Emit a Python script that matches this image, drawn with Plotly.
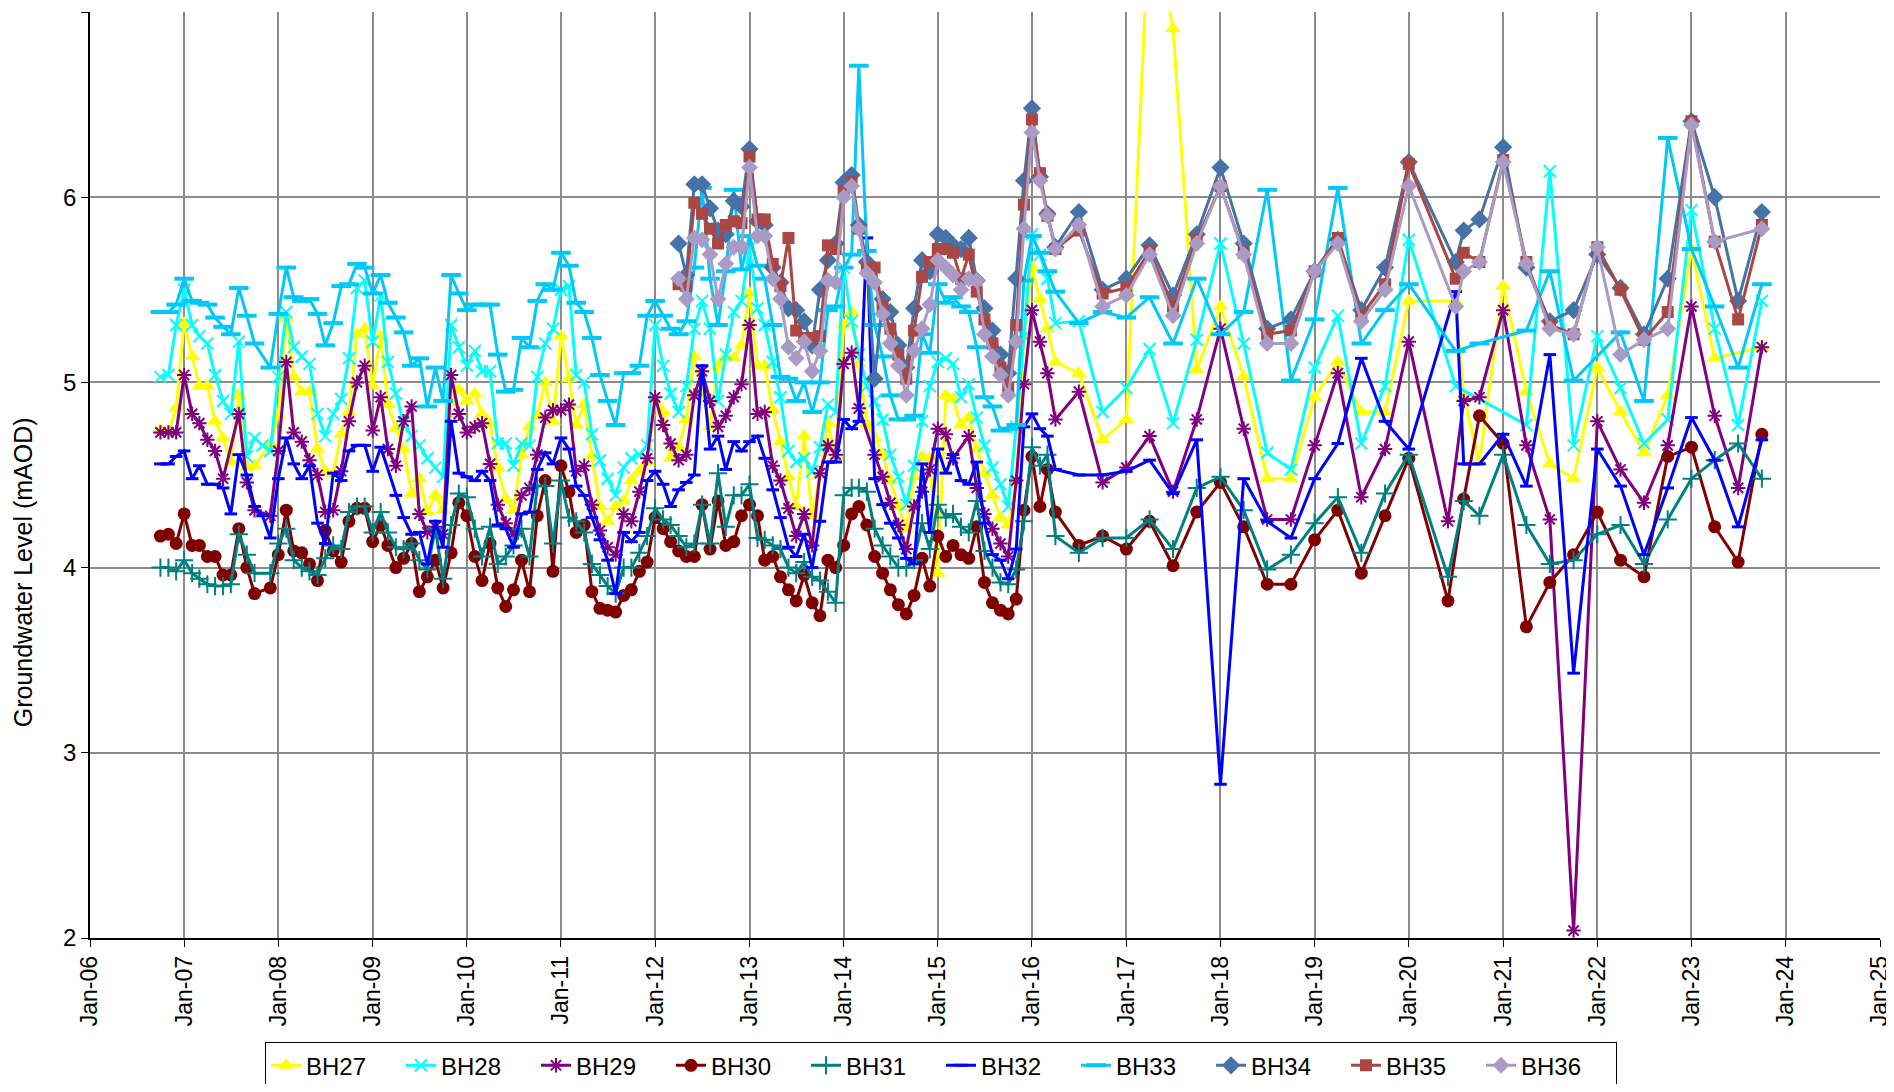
import plotly.graph_objects as go

# ---------------- dates (monthly Oct-2006 .. Apr-2016, then quarterly) ----------------
dense_dates = []
yy, mm = 2006, 10
while (yy, mm) <= (2016, 4):
    dense_dates.append(f"{yy}-{mm:02d}-01")
    mm += 1
    if mm == 13:
        mm = 1
        yy += 1
later_dates = ["2016-07-01", "2016-10-01", "2017-01-01", "2017-04-01", "2017-07-01", "2017-10-01",
               "2018-01-01", "2018-04-01", "2018-07-01", "2018-10-01", "2019-01-01", "2019-04-01",
               "2019-07-01", "2019-10-01", "2020-01-01", "2020-06-01", "2020-07-01", "2020-08-01",
               "2020-10-01", "2021-01-01", "2021-04-01", "2021-07-01", "2021-10-01", "2022-01-01",
               "2022-04-01", "2022-07-01", "2022-10-01", "2023-01-01", "2023-04-01", "2023-07-01",
               "2023-10-01"]
dates = dense_dates + later_dates

N = None
pre2012 = [N] * 66  # Oct-2006 .. Mar-2012 (no data for BH34-36)

BH27 = [4.74, 4.73, 4.86,
        5.32, 5.14, 4.98, 4.98, 4.79, 4.70, 4.57, 4.93, 4.54, 4.55, N, 4.67,
        4.82, 5.35, 5.03, 4.95, 4.95, 4.64, 4.52, 4.51, 4.72, 4.84, 5.26, 5.29,
        4.98, 5.25, 4.88, 4.75, 4.64, 4.40, 4.48, 4.30, 4.39, 4.31, 4.89, 4.96,
        4.90, 4.94, 4.83, 4.78, 4.54, 4.37, 4.31, 4.61, 4.76, 4.82, 5.00, 4.79,
        5.25, 5.02, 4.77, 4.88, 4.60, 4.33, 4.25, 4.33, 4.36, 4.47, 4.52, 4.57,
        4.90, 4.84, 4.59, 4.65, 4.80, 5.14, 4.95, 4.76, 5.09, 5.14, 5.13, 5.20,
        5.48, 5.09, 5.09, 4.85, 4.68, 4.49, 4.33, 4.71, 4.28, 4.50, 4.78, 4.60,
        5.31, 5.38, 5.10, 4.78, 4.70, 4.61, 4.47, 4.33, 4.21, 4.49, 4.60, 4.59,
        3.97, 4.93, 4.91, 4.77, 4.81, 4.64, 4.51, 4.39, 4.27, 4.23, 4.45, 5.25,
        5.62, 5.45, 5.29, 5.11,
        5.05, 4.69, 4.80, 7.55, 6.91, 5.07, 5.41, 5.03, 4.48, 4.48, 4.92, 5.11, 4.84, 4.84, 5.44,
        N, 5.44, 4.92, 4.57, 5.52, 4.95, 4.56, 4.48, 5.08, 4.84, 4.62, 4.93, 5.72, 5.13, N, 5.19]

BH28 = [5.03, 5.04, 5.31,
        5.50, 5.31, 5.25, 5.21, 5.04, 4.90, 4.83, 5.22, 4.60, 4.70, 4.66, 4.63,
        5.03, 5.38, 5.19, 5.14, 5.10, 4.83, 4.71, 4.83, 4.91, 5.13, 5.51, 5.55,
        5.22, 5.47, 5.11, 4.94, 4.78, 4.71, 4.66, 4.59, 4.54, 4.49, 5.31, 5.19,
        5.09, 5.17, 5.06, 5.06, 4.67, 4.67, 4.55, 4.67, 4.66, 5.03, 5.21, 5.29,
        5.50, 5.52, 5.04, 5.00, 4.72, 4.58, 4.48, 4.39, 4.54, 4.59, 4.61, 4.66,
        5.31, 5.09, 4.94, 4.84, 4.98, 5.29, 5.44, 5.29, 4.90, 5.15, 5.38, 5.44,
        5.73, 5.40, 5.31, 5.11, 4.92, 4.63, 4.57, 4.59, 4.52, 4.65, 4.88, 4.84,
        5.62, 5.33, 5.15, 4.98, 4.90, 4.80, 4.61, 4.49, 4.34, 4.55, 4.79, 4.98,
        5.11, 5.13, 5.10, 4.92, 4.99, 4.81, 4.66, 4.54, 4.45, 4.33, 4.76, 5.25,
        5.80, 5.69, 5.56, 5.32,
        5.33, 4.84, 4.97, 5.18, 4.78, 5.23, 5.75, 5.21, 4.62, 4.53, 5.08, 5.36, 4.67, 4.98, 5.77,
        N, 4.98, N, N, N, 4.77, 6.14, 4.66, 5.25, 4.97, 4.67, 4.80, 5.93, 5.29, 4.77, 5.44]

BH29 = [4.73, 4.73, 4.73,
        5.04, 4.83, 4.78, 4.69, 4.63, 4.48, N, 4.83, 4.46, 4.31, N, 4.28,
        4.63, 5.11, 4.73, 4.68, 4.58, 4.50, 4.30, 4.31, 4.52, 4.79, 5.00, 5.09,
        4.74, 4.92, 4.64, 4.55, 4.79, 4.87, 4.29, 4.19, 4.22, 4.18, 5.04, 4.83,
        4.73, 4.76, 4.78, 4.56, 4.34, 4.24, 4.18, 4.39, 4.43, 4.61, 4.81, 4.85,
        4.85, 4.88, 4.52, 4.55, 4.34, 4.20, 4.11, 4.07, 4.29, 4.25, 4.41, 4.59,
        4.92, 4.77, 4.67, 4.58, 4.61, 4.93, 5.06, 4.90, 4.76, 4.82, 4.92, 4.99,
        5.31, 4.83, 4.84, 4.55, 4.47, 4.32, 4.17, 4.29, 4.12, 4.51, 4.66, 4.61,
        5.10, 5.16, 4.86, N, 4.61, 4.49, 4.35, 4.23, 4.10, 4.33, 4.41, 4.53,
        4.75, 4.72, 4.59, N, 4.71, 4.43, 4.29, 4.21, 4.13, 4.06, 4.47, 4.99,
        5.39, 5.22, 5.05, 4.80,
        4.95, 4.46, 4.54, 4.71, 4.41, 4.80, 5.29, 4.75, 4.26, 4.26, 4.66, 5.05, 4.38, 4.64, 5.22,
        4.25, N, 4.90, 4.92, 5.39, 4.66, 4.26, 2.04, 4.79, 4.53, 4.35, 4.66, 5.41, 4.82, 4.43, 5.19]

BH30 = [4.17, 4.18, 4.13,
        4.29, 4.12, 4.12, 4.06, 4.06, 3.96, 3.96, 4.21, 4.00, 3.86, N, 3.89,
        4.07, 4.31, 4.09, 4.08, 4.02, 3.93, 4.20, 4.09, 4.03, 4.25, 4.32, 4.32,
        4.14, 4.23, 4.12, 4.00, 4.05, 4.13, 3.87, 3.95, 4.04, 3.89, 4.08, 4.35,
        4.28, 4.06, 3.93, 4.13, 3.89, 3.79, 3.88, 4.04, 3.87, 4.28, 4.47, 3.98,
        4.55, 4.41, 4.19, 4.23, 3.87, 3.78, 3.77, 3.76, 3.85, 3.88, 3.98, 4.03,
        4.27, 4.21, 4.14, 4.09, 4.06, 4.06, 4.34, 4.10, 4.36, 4.12, 4.14, 4.28,
        4.34, 4.28, 4.04, 4.06, 3.95, 3.88, 3.82, 3.96, 3.81, 3.74, 4.04, 4.00,
        4.12, 4.29, 4.33, 4.23, 4.06, 3.97, 3.88, 3.80, 3.75, 3.85, 4.05, 3.90,
        4.17, 4.06, 4.12, 4.07, 4.05, 4.22, 3.92, 3.81, 3.77, 3.75, 3.83, 4.31,
        4.60, 4.33, 4.53, 4.30,
        4.12, 4.17, 4.10, 4.25, 4.01, 4.30, 4.46, 4.22, 3.91, 3.91, 4.15, 4.31, 3.97, 4.28, 4.59,
        3.82, N, 4.37, 4.82, 4.67, 3.68, 3.92, 4.07, 4.30, 4.04, 3.95, 4.60, 4.65, 4.22, 4.03, 4.72]

BH31 = [4.00, 4.00, 3.98,
        4.04, 3.97, 3.94, 3.91, 3.90, 3.90, 3.91, 4.18, 4.07, 3.97, N, 3.97,
        4.13, 4.21, 4.04, 4.00, 3.98, 3.96, 4.05, 4.12, 4.10, 4.30, 4.33, 4.33,
        4.19, 4.30, 4.19, 4.11, 4.10, 4.13, 4.04, 3.99, 4.21, 3.94, 4.23, 4.40,
        4.38, 4.21, 4.06, 4.22, 4.02, 4.06, 4.12, 4.21, 4.06, 4.44, 4.44, 4.13,
        4.47, 4.27, 4.25, 4.19, 4.02, 3.96, 3.90, 3.86, 4.00, 4.00, 4.08, 4.17,
        4.32, 4.26, 4.23, 4.17, 4.11, 4.13, 4.34, 4.13, 4.51, 4.22, 4.39, 4.39,
        4.45, 4.16, 4.15, 4.12, 4.10, 4.00, 3.97, 4.03, 3.95, 3.93, 3.87, 3.81,
        4.39, 4.43, 4.43, 4.41, 4.21, 4.12, 4.06, 4.00, 4.00, 4.04, 4.24, 4.10,
        4.34, 4.27, 4.29, 4.22, 4.19, 4.36, 4.09, 4.00, 3.92, 3.91, 3.99, 4.25,
        4.65, 4.55, 4.61, 4.17,
        4.08, 4.16, 4.16, 4.26, 4.10, 4.43, 4.49, 4.31, 3.99, 4.07, 4.24, 4.38, 4.08, 4.40, 4.61,
        3.95, N, 4.36, 4.28, 4.61, 4.23, 4.02, 4.04, 4.18, 4.23, 4.02, 4.26, 4.48, 4.58, 4.67, 4.48]

BH32 = [4.56, 4.56, 4.60,
        4.63, 4.48, 4.55, 4.45, 4.45, 4.43, 4.29, 4.61, 4.50, 4.33, 4.28, 4.16,
        4.48, 4.70, 4.56, 4.48, 4.55, 4.24, 4.13, 4.51, 4.47, 4.63, 4.66, 4.66,
        4.52, 4.65, N, 4.39, 4.27, 4.18, 4.19, 4.02, 4.25, 4.11, 4.79, 4.51,
        4.49, 4.47, 4.52, 4.47, 4.23, 4.21, 4.11, 4.29, 4.30, 4.53, 4.62, 4.56,
        4.70, 4.64, 4.44, 4.39, 4.27, 4.15, 4.04, 3.86, 4.19, 4.14, 4.19, 4.47,
        4.52, 4.45, 4.33, 4.42, 4.46, 4.50, 5.09, 4.64, 4.71, 4.53, 4.68, 4.63,
        4.68, 4.71, 4.59, 4.42, 4.27, 4.11, 4.06, 4.18, 4.00, 4.25, 4.57, 4.57,
        4.80, 4.75, 4.79, 5.78, 4.48, 4.34, 4.24, 4.16, 4.05, 4.02, 4.56, 4.19,
        4.64, 4.51, 4.61, 4.47, 4.45, 4.57, 4.24, 4.07, 4.04, 3.94, 4.10, 4.76,
        4.83, 4.75, 4.71, 4.53,
        4.50, 4.50, 4.52, 4.58, 4.40, 4.69, 2.83, 4.48, 4.25, 4.16, 4.48, 4.67, 5.13, 4.79, 4.64,
        N, 5.49, 4.56, 4.56, 4.72, 4.44, 5.15, 3.43, 4.64, 4.44, 4.07, 4.43, 4.81, 4.58, 4.22, 4.69]

BH33 = [5.38, 5.38, 5.42,
        5.56, 5.44, 5.43, 5.42, 5.35, 5.30, 5.26, 5.51, 5.36, 5.21, N, 5.08,
        5.37, 5.62, 5.46, 5.44, 5.45, 5.37, 5.20, 5.32, 5.52, 5.53, 5.64, 5.62,
        5.48, 5.58, 5.43, 5.35, 5.27, 5.09, 5.13, 4.87, 5.08, 4.90, 5.58, 5.48,
        5.39, 5.42, 5.42, 5.42, 5.15, 4.95, 4.96, 5.24, 5.19, 5.44, 5.53, 5.50,
        5.70, 5.63, 5.43, 5.38, 5.24, 5.04, 4.90, 4.77, 5.05, 5.05, 5.09, 5.36,
        5.44, 5.36, 5.29, 5.26, 5.33, 5.62, 6.05, 5.56, 5.31, 5.60, 6.04, 5.61,
        5.79, 5.63, 5.56, 5.31, 5.03, 5.02, 4.90, 5.00, 4.84, 5.00, 5.39, 5.41,
        5.62, 5.69, 6.71, 5.71, 5.31, 5.14, 4.93, 4.80, 4.80, 4.82, 5.26, 5.16,
        5.53, 5.43, 5.46, 5.41, 5.38, 5.19, 4.92, 4.87, 4.74, 4.75, 4.77, 5.55,
        5.79, 5.70, 5.60, 5.49,
        5.32, 5.38, 5.35, 5.46, 5.21, 5.56, 5.26, 5.38, 6.04, 5.01, 5.34, 6.05, 5.21, 5.39, 5.53,
        N, 5.17, N, 5.21, N, 5.28, 5.60, 5.01, N, 5.27, 4.90, 6.32, 5.72, 5.41, 5.08, 5.53]

BH34 = pre2012 + [5.75, 5.58, 6.07, 6.07, 5.94, 5.82, 5.80, 5.98, 5.95,
                  6.26, 5.87, 5.85, 5.62, 5.54, 5.40, 5.39, 5.33, 5.20, 5.50, 5.66, 5.75,
                  6.08, 6.12, 5.85, 5.65, 5.02, 5.45, 5.38, 5.20, 5.08, 5.40, 5.66, 5.60,
                  5.80, 5.78, 5.74, 5.72, 5.78, 5.55, 5.40, 5.28, 5.15, 5.05, 5.56, 6.09,
                  6.48, 6.11, 5.91, 5.73,
                  5.92, 5.50, 5.56, 5.74, 5.47, 5.80, 6.16, 5.75, 5.29, 5.34, 5.60, 5.77, 5.39, 5.62, 6.19,
                  N, 5.65, 5.82, 5.88, 6.27, 5.62, 5.33, 5.39, 5.69, 5.51, 5.26, 5.56, 6.41, 6.00, 5.44, 5.92]

BH35 = pre2012 + [5.53, 5.52, 5.97, 5.91, 5.83, 5.75, 5.85, 5.87, 5.86,
                  6.22, 5.88, 5.88, 5.64, 5.52, 5.78, 5.28, 5.24, 5.24, 5.25, 5.74, 5.72,
                  6.03, 6.08, 5.83, 5.62, 5.62, 5.41, 5.29, 5.15, 5.02, 5.28, 5.57, 5.65,
                  5.72, 5.72, 5.70, 5.56, 5.69, 5.49, 5.34, 5.21, 5.08, 4.97, 5.31, 5.96,
                  6.42, 6.13, 5.90, 5.72,
                  5.82, 5.48, 5.51, 5.71, 5.41, 5.77, 6.06, 5.70, 5.26, 5.28, 5.60, 5.78, 5.36, 5.53, 6.18,
                  N, 5.56, 5.70, 5.65, 6.20, 5.65, 5.31, 5.26, 5.73, 5.50, 5.23, 5.38, 6.41, 5.76, 5.34, 5.85]

BH36 = pre2012 + [5.56, 5.45, 5.78, 5.77, 5.69, 5.45, 5.64, 5.73, 5.73,
                  6.16, 5.79, 5.79, 5.56, 5.45, 5.19, 5.13, 5.22, 5.06, 5.17, 5.55, 5.54,
                  6.00, 6.06, 5.83, 5.59, 5.54, 5.37, 5.21, 5.09, 4.93, 5.17, 5.29, 5.42,
                  5.66, 5.62, 5.58, 5.50, 5.56, 5.55, 5.26, 5.14, 5.04, 4.93, 5.22, 5.83,
                  6.35, 6.09, 5.90, 5.72,
                  5.85, 5.41, 5.47, 5.69, 5.36, 5.75, 6.06, 5.69, 5.21, 5.21, 5.60, 5.75, 5.33, 5.50, 6.06,
                  N, 5.41, 5.60, 5.65, 6.19, 5.64, 5.29, 5.26, 5.73, 5.15, 5.23, 5.29, 6.39, 5.76, N, 5.83]

series = [
    ("BH27", BH27, "#FFFF00", dict(symbol="triangle-up", size=14, color="#FFFF00")),
    ("BH28", BH28, "#00FFFF", dict(symbol="x-thin-open", size=12, color="#00FFFF",
                                   line=dict(color="#00FFFF", width=2))),
    ("BH29", BH29, "#800080", dict(symbol="asterisk-open", size=12, color="#800080",
                                   line=dict(color="#800080", width=2))),
    ("BH30", BH30, "#800000", dict(symbol="circle", size=13, color="#800000")),
    ("BH31", BH31, "#008080", dict(symbol="cross-thin-open", size=13, color="#008080",
                                   line=dict(color="#008080", width=2))),
    ("BH32", BH32, "#0000FF", dict(symbol="line-ew-open", size=9, color="#0000FF",
                                   line=dict(color="#0000FF", width=3))),
    ("BH33", BH33, "#00C8F8", dict(symbol="line-ew-open", size=14, color="#00C8F8",
                                   line=dict(color="#00C8F8", width=4))),
    ("BH34", BH34, "#4572A7", dict(symbol="diamond", size=14, color="#4572A7")),
    ("BH35", BH35, "#AA4643", dict(symbol="square", size=12, color="#AA4643")),
    ("BH36", BH36, "#A99BC5", dict(symbol="diamond", size=13, color="#A99BC5")),
]

fig = go.Figure()
for name, vals, col, mk in series:
    fig.add_trace(go.Scatter(x=dates, y=vals, name=name, mode="lines+markers",
                             connectgaps=True, line=dict(color=col, width=3), marker=mk))

# The page body has an 8 px margin: figure origin sits at (8, 8) in the window.
FONT = "Liberation Sans, Arial, sans-serif"
fig.update_layout(
    width=1886, height=1076,
    margin=dict(l=82, r=14, t=4, b=146, autoexpand=False),
    paper_bgcolor="white", plot_bgcolor="white",
    font=dict(family=FONT, size=23, color="black"),
    showlegend=True,
    legend=dict(orientation="h", xref="container", yref="container",
                x=933 / 1886, xanchor="center", y=0.017, yanchor="middle",
                bordercolor="black", borderwidth=1, font=dict(size=24),
                entrywidth=90, entrywidthmode="pixels", itemsizing="trace"),
    xaxis=dict(type="date", range=["2006-01-01", "2025-01-01"], dtick="M12",
               tick0="2006-01-01", tickformat="%b-%y", tickangle=-90,
               showgrid=True, gridcolor="#8C8C8C", gridwidth=1.5,
               showline=True, linecolor="black", linewidth=1.5,
               ticks="outside", ticklen=7, tickcolor="black", automargin=False,
               ticklabeloverflow="allow", tickfont=dict(size=23), zeroline=False),
    yaxis=dict(range=[2, 7], dtick=1, showgrid=True, gridcolor="#8C8C8C", gridwidth=1.5,
               showline=True, linecolor="black", linewidth=1.5,
               ticks="outside", ticklen=7, tickcolor="black", automargin=False,
               tickfont=dict(size=24), zeroline=False),
    annotations=[dict(text="Groundwater Level (mAOD)", textangle=-90, xref="paper", yref="paper",
                      x=-0.0374, y=0.395, xanchor="center", yanchor="middle", showarrow=False,
                      font=dict(size=25))],
)

fig.write_html("out.html")
